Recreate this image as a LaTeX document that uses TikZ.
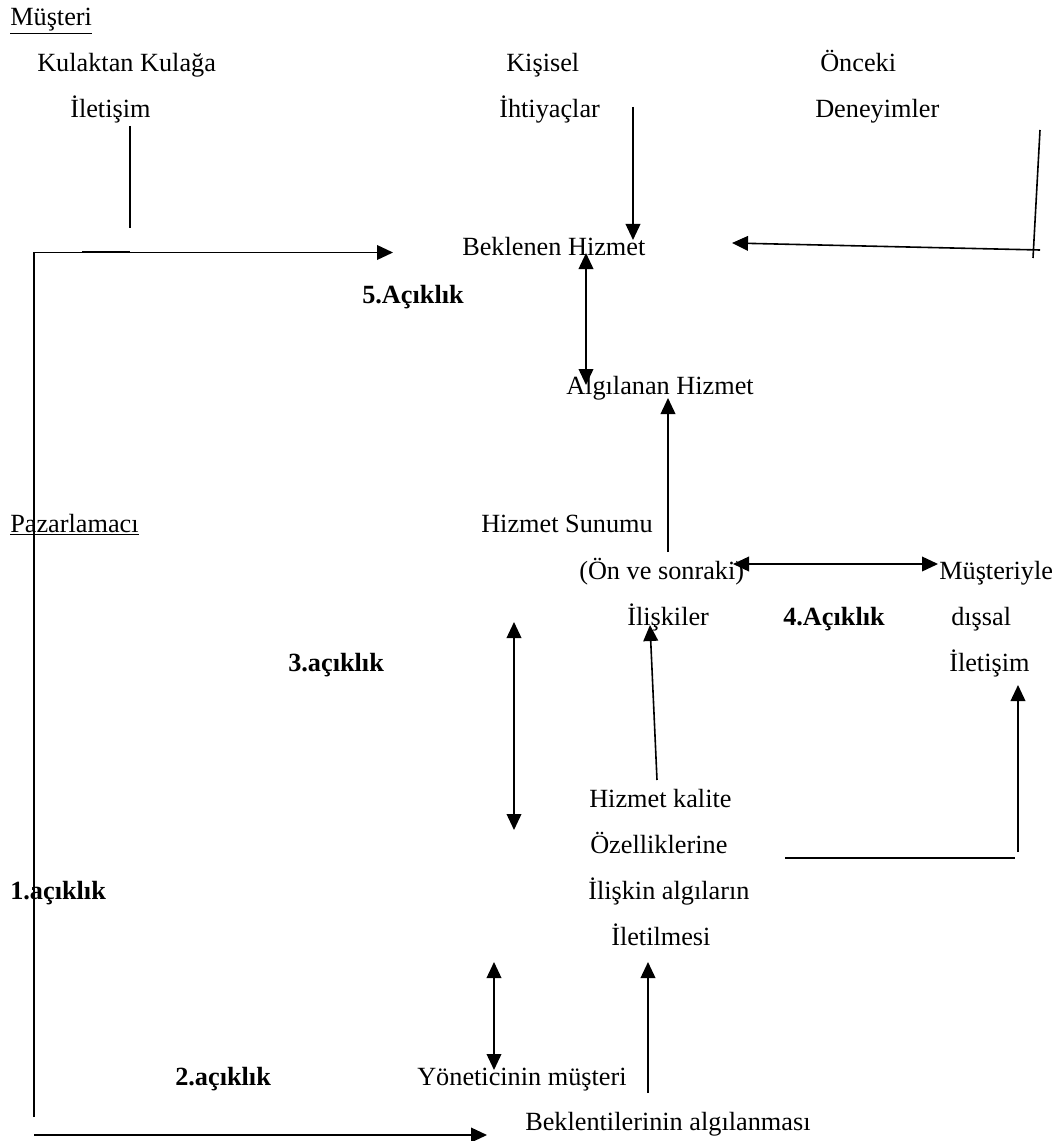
\documentclass[tikz,border=0pt]{standalone}
\usepackage{fontspec}
\setmainfont{Liberation Serif}
\usetikzlibrary{arrows.meta}
\begin{document}
\fontsize{19.7pt}{24pt}\selectfont
\begin{tikzpicture}[x=0.75pt,y=-0.75pt,
  lbl/.style={inner sep=0pt, anchor=base west},
  gaplbl/.style={lbl, font=\bfseries},
  ln/.style={line width=1.2pt},
  tip/.tip={Triangle[length=12pt,width=11pt]},
  arr/.style={ln, -tip},
  darr/.style={ln, tip-tip}]
\useasboundingbox (0,0) rectangle (1059,1141);

% --- customer side ---
\node[lbl] (mus) at (10,26) {\underline{Müşteri}};
\node[lbl] (kk) at (37,72) {Kulaktan Kulağa};
\node[lbl] (il1) at (70,118) {İletişim};
\node[lbl] (kis) at (506,72) {Kişisel};
\node[lbl] (iht) at (499,118) {İhtiyaçlar};
\node[lbl] (onc) at (820,72) {Önceki};
\node[lbl] (den) at (815,118) {Deneyimler};
\node[lbl] (bek) at (462,256) {Beklenen Hizmet};
\node[gaplbl] (g5) at (362,303) {5.Açıklık};
\node[lbl] (alg) at (566,394) {Algılanan Hizmet};

% --- marketer side ---
\node[lbl] (paz) at (10,532) {\underline{Pazarlamacı}};
\node[lbl] (sun) at (481,532) {Hizmet Sunumu};
\node[lbl] (onv) at (579,579) {(Ön ve sonraki)};
\node[lbl] (mus2) at (939,579) {Müşteriyle};
\node[lbl] (ilis) at (627,625) {İlişkiler};
\node[gaplbl] (g4) at (783,625) {4.Açıklık};
\node[lbl] (dis) at (951,625) {dışsal};
\node[lbl] (il2) at (949,671) {İletişim};
\node[gaplbl] (g3) at (288,671) {3.açıklık};
\node[lbl] (hk) at (589,807) {Hizmet kalite};
\node[lbl] (oz) at (590,853) {Özelliklerine};
\node[gaplbl] (g1) at (10,899) {1.açıklık};
\node[lbl] (ila) at (588,899) {İlişkin algıların};
\node[lbl] (ilt) at (611,945) {İletilmesi};
\node[gaplbl] (g2) at (175,1085) {2.açıklık};
\node[lbl] (yon) at (417,1085) {Yöneticinin müşteri};
\node[lbl] (bal) at (525,1130) {Beklentilerinin algılanması};

% --- connector end points ---
\coordinate (kkA) at (130,126);
\coordinate (kkB) at (130,228);
\coordinate (kkC) at (82,251.5);
\coordinate (kkD) at (130,251.5);
\coordinate (lTop) at (34,252.5);
\coordinate (lBot) at (34,1117);
\coordinate (bekIn) at (393,252.5);
\coordinate (botA) at (34,1135);
\coordinate (botB) at (487,1135);
\coordinate (kisA) at (633,107);
\coordinate (kisB) at (633,240);
\coordinate (oncA) at (1040,130);
\coordinate (oncB) at (1033,258);
\coordinate (oncC) at (1040,250);
\coordinate (oncD) at (732,243);
\coordinate (g5A) at (586,253);
\coordinate (g5B) at (586,385);
\coordinate (algA) at (668,552);
\coordinate (algB) at (668,398);
\coordinate (g4A) at (733,564);
\coordinate (g4B) at (938,564);
\coordinate (g3A) at (514,622);
\coordinate (g3B) at (514,830);
\coordinate (hkA) at (657,780);
\coordinate (hkB) at (650,625);
\coordinate (rA) at (785,858);
\coordinate (rB) at (1015,858);
\coordinate (rC) at (1018,852);
\coordinate (rD) at (1018,685);
\coordinate (g2A) at (494,962);
\coordinate (g2B) at (494,1070);
\coordinate (balA) at (648,1093);
\coordinate (balB) at (648,962);

% --- connectors ---
\draw[ln] (kkA) -- (kkB);
\draw[ln] (kkC) -- (kkD);
\draw[arr] (lBot) -- (lTop) -- (bekIn);
\draw[arr] (botA) -- (botB);
\draw[arr] (kisA) -- (kisB);
\draw[ln] (oncA) -- (oncB);
\draw[arr] (oncC) -- (oncD);
\draw[darr] (g5A) -- (g5B);
\draw[arr] (algA) -- (algB);
\draw[darr] (g4A) -- (g4B);
\draw[darr] (g3A) -- (g3B);
\draw[arr] (hkA) -- (hkB);
\draw[ln] (rA) -- (rB);
\draw[arr] (rC) -- (rD);
\draw[darr] (g2A) -- (g2B);
\draw[arr] (balA) -- (balB);
\end{tikzpicture}
\end{document}
